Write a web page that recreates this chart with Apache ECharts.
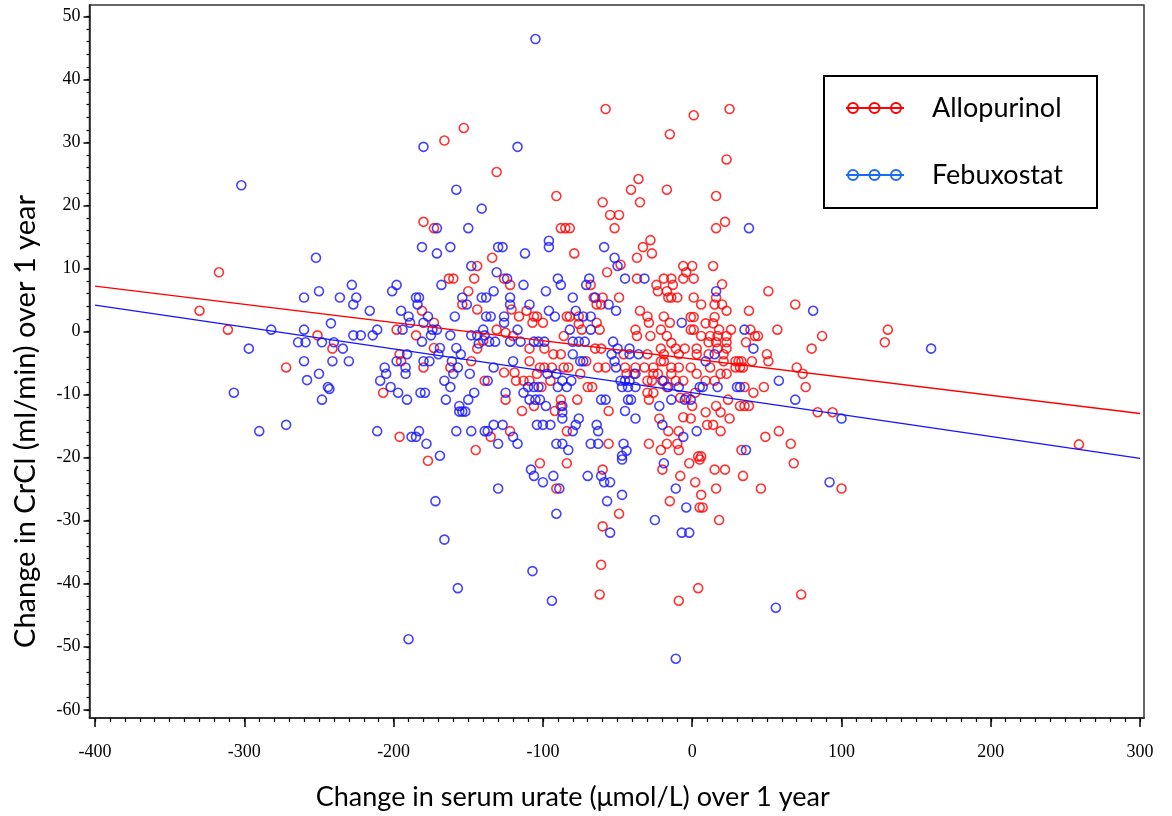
<!DOCTYPE html>
<html>
<head>
<meta charset="utf-8">
<script src="https://cdn.jsdelivr.net/npm/echarts@6/dist/echarts.min.js"></script>
<style>
  html, body { margin: 0; padding: 0; background: #fff; }
  #chart { width: 1172px; height: 816px; }
</style>
</head>
<body>
<div id="chart"></div>
<script>
// tick labels
var xTicks = [-400, -300, -200, -100, 0, 100, 200, 300];
var yTicks = [-60, -50, -40, -30, -20, -10, 0, 10, 20, 30, 40, 50];

// change in serum urate (x) vs change in CrCl (y)
var allopurinol = [
  [-317, 9.4], [-330, 3.3], [-311, 0.3], [-272, -5.7], [-251, -0.6], [-241, -2.7],
  [-58, 35.3], [-153, 32.3], [-166, 30.3], [-131, 25.3], [-91, 21.5], [-41, 22.5], [-60, 20.5],
  [-180, 17.4], [-173, 16.4], [-88, 16.4], [-85, 16.4], [-82, 16.4], [-55, 18.5], [-49, 18.5],
  [-52, 16.4], [-134, 11.7], [-79, 12.4],
  [1, 34.3], [25, 35.3], [-15, 31.3], [23, 27.3], [-36, 24.2], [-17, 22.5], [-35, 20.5], [16, 21.5],
  [22, 17.4], [16, 16.4], [-28, 14.5], [-33, 13.4], [-27, 12.4], [-37, 11.7],
  [-144, 10.4], [-163, 8.4], [-160, 8.4], [-146, 8.4], [-126, 8.4], [-122, 7.4], [-150, 6.4],
  [-144, 3.5], [-121, 3.5], [-181, 3.3], [-154, 4.3], [-116, 2.4], [-173, 1.4], [-198, 0.3],
  [-131, 0.3], [-125, -0.2], [-185, -0.6], [-140, -1.4], [-120, -0.7], [-173, -2.6], [-144, -2.7],
  [-196, -3.6], [-195, -4.7], [-148, -4.7], [-162, -5.7], [-180, -5.7], [-126, -6.5], [-119, -6.5],
  [-139, -7.8], [-118, -7.8], [-207, -9.7], [-125, -10.8], [-135, -16.7], [-122, -15.8],
  [-145, -18.8], [-177, -20.5], [-196, -16.7], [-114, -12.6],
  [-102, -20.9], [-84, -20.9], [-91, -24.9], [-60, -21.9], [-49, -28.9], [-60, -30.9], [-61, -37.0],
  [-62, -41.7],
  [-2, -20.9], [5, -20.3], [-20, -21.9], [15, -21.9], [22, -21.9], [-8, -22.9], [2, -23.9],
  [34, -22.9], [68, -20.9], [16, -24.9], [46, -24.9], [100, -24.9], [6, -25.9], [-15, -26.9],
  [5, -27.9], [7, -27.9], [18, -29.9], [4, -40.7], [-9, -42.7], [73, -41.7],
  [131, 0.3], [129, -1.7], [259, -17.9],
  [51, 6.4], [69, 4.3], [57, 0.3], [87, -0.7], [80, -2.7], [70, -5.7], [74, -6.7], [76, -8.8],
  [84, -12.8], [94, -12.8], [49, -16.7], [58, -15.8], [66, -17.8], [33, -18.8], [4, -19.8],
  [6, -19.8], [25, -13.8], [19, -12.8], [9, -12.8], [10, -14.8], [14, -14.8], [19, -15.8],
  [-1, -13.8], [0, -11.8], [32, -11.8], [35, -11.8], [38, -11.8], [24, -10.8], [16, -11.8],
  [41, -9.7], [48, -8.8], [35, -8.8], [2, -9.7], [15, -7.8], [9, -7.8], [23, -6.7], [19, -6.7],
  [3, -6.7], [29, -5.7], [32, -5.7], [34, -5.7], [-1, -5.7], [12, -5.7], [29, -4.7], [31, -4.7],
  [33, -4.7], [40, -4.7], [50, -3.6], [51, -4.7], [21, -4.7], [11, -3.6], [21, -3.6], [3, -3.6],
  [23, -2.7], [17, -2.7], [3, -2.7], [36, -1.7], [11, -1.7], [16, -1.7], [23, -1.7], [42, -0.7],
  [44, -0.7], [26, 0.3], [39, 0.3], [6, -0.7], [12, -0.7], [17, -0.7], [23, -0.7], [-1, 0.3],
  [1, 0.3], [9, 1.3], [14, 1.3], [18, 0.3], [-1, 2.3], [1, 2.3], [15, 2.3], [23, 3.3], [38, 3.3],
  [6, 4.3], [15, 4.3], [20, 4.3], [16, 5.4], [20, 7.5], [1, 5.4], [1, 8.4], [14, 10.4], [0, 10.4],
  [-48, 10.6], [-57, 9.4], [-6, 10.4], [-4, 9.4], [-68, 7.4], [-37, 8.4], [-24, 7.4], [-23, 6.4],
  [-19, 8.4], [-14, 8.4], [-13, 7.4], [-6, 8.4], [-17, 6.4], [-14, 5.4], [-16, 5.4], [-10, 5.4],
  [-66, 5.4], [-64, 4.3], [-60, 5.4], [-49, 5.4], [-61, 4.3], [-111, 3.3], [-106, 2.4],
  [-104, 2.4], [-100, 1.4], [-84, 2.4], [-82, 2.4], [-76, 2.4], [-35, 3.3], [-30, 2.4],
  [-29, 1.4], [-19, 2.4], [-15, 1.4], [-107, 1.4], [-76, 1.2], [-64, 1.4], [-62, 0.3], [-74, 0.3],
  [-86, -0.7], [-38, 0.3], [-37, -0.7], [-28, -0.7], [-21, 0.3], [-17, -0.7], [-14, -1.8],
  [-109, -2.7], [-99, -2.7], [-65, -2.7], [-61, -2.7], [-46, -3.6], [-30, -3.6], [-21, -2.7],
  [-19, -3.6], [-21, -4.7], [-19, -4.7], [-11, -2.7], [-9, -3.6], [-5, -2.7], [-93, -3.6],
  [-88, -3.6], [-109, -4.7], [-102, -5.7], [-99, -5.7], [-94, -5.7], [-86, -5.7], [-83, -5.7],
  [-71, -4.7], [-63, -5.7], [-58, -5.7], [-45, -5.7], [-38, -5.7], [-32, -5.7], [-26, -5.7],
  [-14, -5.7], [-9, -5.7], [-104, -6.7], [-75, -6.7], [-44, -6.7], [-39, -6.7], [-26, -6.7],
  [-23, -6.7], [-14, -6.7], [-95, -7.8], [-113, -7.8], [-109, -7.8], [-101, -8.8], [-70, -8.8],
  [-67, -8.8], [-30, -7.8], [-27, -7.8], [-19, -7.8], [-17, -8.8], [-11, -7.8], [-6, -7.8],
  [-30, -9.7], [-26, -9.7], [-88, -10.8], [-88, -11.8], [-77, -10.8], [-29, -10.8], [-106, -11.8],
  [-8, -10.5], [-4, -10.5], [-92, -12.6], [-84, -15.8], [-56, -12.6], [-22, -13.8], [-16, -15.8],
  [-6, -13.6], [-9, -15.8], [-17, -17.8], [-10, -17.8], [-29, -17.8], [-21, -18.8], [-56, -17.8],
  [-9, -18.8]
];

var febuxostat = [
  [-302, 23.2], [-252, 11.7],
  [-282, 0.3], [-297, -2.7], [-307, -9.7], [-290, -15.8], [-272, -14.8], [-260, 5.4], [-250, 6.4],
  [-236, 5.4], [-228, 7.4], [-242, 1.3], [-260, 0.3], [-264, -1.7], [-259, -1.7], [-248, -1.7],
  [-240, -1.7], [-234, -2.7], [-260, -4.7], [-241, -4.7], [-230, -4.7], [-250, -6.7], [-258, -7.7],
  [-244, -8.8], [-243, -9.1], [-248, -10.8],
  [-105, 46.4], [-180, 29.3], [-117, 29.3], [-158, 22.5], [-141, 19.5], [-171, 16.4], [-150, 16.4],
  [-181, 13.4], [-171, 12.4], [-162, 13.4], [-130, 13.4], [-127, 13.4], [-112, 12.4], [-96, 14.4],
  [-96, 13.4], [-59, 13.4], [-52, 11.7], [38, 16.4],
  [-148, 10.4], [-131, 9.4], [-124, 8.4], [-198, 7.4], [-201, 6.4], [-168, 7.4], [-113, 7.4],
  [-133, 6.4], [-225, 5.4], [-227, 4.3], [-185, 5.4], [-183, 5.4], [-184, 4.3], [-154, 5.4],
  [-141, 5.4], [-138, 5.4], [-122, 5.4], [-151, 4.3], [-122, 4.3], [-216, 3.3], [-195, 3.3],
  [-190, 2.4], [-177, 2.4], [-159, 2.4], [-138, 2.4], [-135, 2.4], [-126, 2.4], [-189, 1.4],
  [-180, 1.4], [-126, 1.4], [-194, 0.3], [-211, 0.3], [-174, 0.3], [-171, 0.3], [-140, 0.3],
  [-117, 0.3], [-227, -0.6], [-222, -0.6], [-214, -0.6], [-175, -0.6], [-162, -0.6], [-148, -0.6],
  [-144, -0.6], [-139, -0.6], [-136, -1.6], [-132, -1.6], [-122, -1.6], [-115, -1.6], [-181, -1.6],
  [-169, -2.6], [-158, -2.6], [-143, -1.9], [-191, -3.6], [-170, -3.6], [-155, -3.6], [-198, -4.7],
  [-180, -4.7], [-176, -4.7], [-161, -4.7], [-120, -4.7], [-157, -5.7], [-206, -5.7], [-192, -5.7],
  [-133, -5.7], [-205, -6.7], [-192, -6.7], [-149, -6.7], [-160, -6.7], [-209, -7.8], [-166, -7.8],
  [-137, -7.8], [-202, -8.8], [-162, -8.8], [-197, -9.7], [-182, -9.7], [-179, -9.7], [-146, -9.7],
  [-125, -9.7], [-113, -9.7], [-191, -10.8], [-165, -10.8], [-150, -10.8], [-156, -11.8],
  [-156, -12.7], [-154, -12.7], [-152, -12.7], [-211, -15.8], [-188, -16.7], [-185, -16.7],
  [-183, -15.8], [-178, -17.8], [-158, -15.8], [-148, -15.8], [-139, -15.8], [-137, -15.8],
  [-133, -14.8], [-127, -14.8], [-120, -16.7], [-130, -17.8], [-117, -17.8], [-169, -19.7],
  [-108, -21.9], [-106, -22.9], [-100, -23.9], [-93, -22.9], [-89, -24.9], [-70, -22.9], [-61, -22.9],
  [-59, -23.9], [-55, -23.9], [-47, -25.9], [-57, -26.9], [-55, -31.9], [-130, -24.9], [-172, -26.9],
  [-91, -28.9], [-166, -33.0], [-107, -38.0], [-157, -40.7], [-94, -42.7], [-190, -48.8],
  [-19, -20.9], [-11, -24.9], [92, -23.9], [-4, -27.9], [-25, -29.9], [-7, -31.9], [-2, -31.9],
  [56, -43.8], [-11, -51.9], [-47, -20.3], [160, -2.7],
  [81, 3.3], [58, -7.8], [69, -10.8], [100, -13.8], [36, -18.8], [3, -15.8], [-1, -10.8], [30, -8.8],
  [32, -8.8], [17, -8.8], [5, -8.8], [7, -8.8], [41, -2.7], [35, 0.3], [9, -4.7], [15, -3.6], [16, 6.4],
  [-50, 10.4], [-90, 8.4], [-88, 7.4], [-69, 8.4], [-71, 7.4], [-45, 8.4], [-32, 8.4], [-98, 6.4],
  [-80, 5.4], [-65, 5.4], [-56, 4.3], [-109, 4.3], [-96, 3.3], [-92, 2.4], [-78, 3.3], [-73, 2.4],
  [-68, 2.4], [-51, 3.3], [-7, 1.4], [-82, 0.3], [-68, 0.3], [-106, -1.6], [-103, -1.6], [-99, -1.6],
  [-80, -1.6], [-76, -1.6], [-72, -1.6], [-53, -1.6], [-50, -2.7], [-54, -3.6], [-52, -4.7],
  [-51, -5.7], [-42, -2.7], [-36, -3.6], [-42, -3.6], [-75, -4.7], [-73, -4.7], [-80, -3.6],
  [-97, -6.7], [-91, -6.7], [-38, -6.7], [-87, -7.8], [-81, -7.8], [-110, -8.8], [-106, -8.8],
  [-103, -8.8], [-90, -8.8], [-84, -8.8], [-48, -7.8], [-45, -7.8], [-42, -7.8], [-47, -8.8],
  [-43, -8.8], [-38, -8.8], [-20, -7.8], [-16, -8.8], [-9, -8.8], [-109, -10.8], [-105, -10.8],
  [-102, -10.8], [-98, -11.8], [-87, -11.8], [-61, -10.8], [-58, -10.8], [-43, -10.8], [-41, -10.8],
  [-14, -10.8], [-22, -11.8], [-5, -10.8], [-87, -12.8], [-87, -13.8], [-76, -13.8], [-78, -14.8],
  [-80, -15.8], [-104, -14.8], [-100, -14.8], [-95, -14.8], [-64, -14.8], [-63, -15.8], [-45, -12.6],
  [-38, -13.8], [-20, -14.8], [-6, -16.7], [-46, -17.8], [-47, -19.7], [-44, -18.9], [-91, -17.8],
  [-87, -17.8], [-83, -18.8], [-68, -17.8], [-63, -17.8]
];

// fitted regression lines, end points
var fitX = [-400, 300];
var allopurinolFit = [7.2, -13.0];
var febuxostatFit = [4.2, -20.1];

var X_MIN = -403.7, X_MAX = 302.6;
var Y_MIN = -61.3, Y_MAX = 51.8;

// minor ticks: x every 10, y every 2
var xMinor = [];
for (var v = -400; v <= 300; v += 10) xMinor.push(v);
var yMinor = [];
for (var w = -60; w <= 50; w += 2) yMinor.push(w);

var RED = '#ff0000';
var BLUE = '#1414ff';
var LEGEND_BLUE = '#1a6cf0';
var labelFont = { fontFamily: 'Liberation Serif', fontSize: 18, color: '#000' };

var chart = echarts.init(document.getElementById('chart'));

function hollow(color) {
  return { color: 'rgba(0,0,0,0)', borderColor: color, borderWidth: 1.6 };
}

chart.setOption({
  animation: false,
  grid: {
    left: 89.5, top: 5, right: 28, bottom: 97,
    show: true, borderColor: '#333', borderWidth: 1.5
  },
  xAxis: [
    {
      type: 'value', min: X_MIN, max: X_MAX, position: 'bottom',
      axisLine: { show: true, onZero: false, lineStyle: { color: '#222', width: 1.5 } },
      axisTick: { show: true, customValues: xTicks, length: 9, lineStyle: { color: '#000', width: 1.5 } },
      axisLabel: Object.assign({ customValues: xTicks, margin: 25 }, labelFont),
      splitLine: { show: false },
      name: 'Change in serum urate (\u03bcmol/L) over 1 year',
      nameLocation: 'middle', nameGap: 66,
      nameTextStyle: { fontFamily: 'Lato', fontSize: 27, color: '#000', padding: [0, 88, 0, 0] }
    },
    {
      type: 'value', min: X_MIN, max: X_MAX, position: 'bottom',
      axisLine: { show: false, onZero: false },
      axisTick: { show: true, customValues: xMinor, length: 4, lineStyle: { color: '#000', width: 1.2 } },
      axisLabel: { show: false },
      splitLine: { show: false }
    }
  ],
  yAxis: [
    {
      type: 'value', min: Y_MIN, max: Y_MAX, position: 'left',
      axisLine: { show: true, onZero: false, lineStyle: { color: '#222', width: 1.5 } },
      axisTick: { show: true, customValues: yTicks, length: 6, lineStyle: { color: '#000', width: 1.5 } },
      axisLabel: Object.assign({ customValues: yTicks, margin: 9 }, labelFont),
      splitLine: { show: false },
      name: 'Change in CrCl (ml/min) over 1 year',
      nameLocation: 'middle', nameGap: 49,
      nameTextStyle: { fontFamily: 'Lato', fontSize: 29, color: '#000', padding: [0, 120, 0, 0] }
    },
    {
      type: 'value', min: Y_MIN, max: Y_MAX, position: 'left',
      axisLine: { show: false, onZero: false },
      axisTick: { show: true, customValues: yMinor, length: 3, lineStyle: { color: '#000', width: 1.2 } },
      axisLabel: { show: false },
      splitLine: { show: false }
    }
  ],
  series: [
    {
      name: 'Allopurinol', type: 'scatter', data: allopurinol,
      symbol: 'circle', symbolSize: 9, itemStyle: hollow(RED)
    },
    {
      name: 'Febuxostat', type: 'scatter', data: febuxostat,
      symbol: 'circle', symbolSize: 9, itemStyle: hollow(BLUE)
    },
    {
      name: 'Allopurinol fit', type: 'line', showSymbol: false, symbol: 'none',
      data: [[fitX[0], allopurinolFit[0]], [fitX[1], allopurinolFit[1]]],
      lineStyle: { color: RED, width: 1.3 }, z: 3
    },
    {
      name: 'Febuxostat fit', type: 'line', showSymbol: false, symbol: 'none',
      data: [[fitX[0], febuxostatFit[0]], [fitX[1], febuxostatFit[1]]],
      lineStyle: { color: BLUE, width: 1.3 }, z: 3
    }
  ],
  // legend box drawn by hand: line through three hollow circles
  graphic: [
    { type: 'rect', shape: { x: 824, y: 76, width: 273, height: 132 },
      style: { fill: '#fff', stroke: '#000', lineWidth: 2 }, z: 10 },
    { type: 'line', shape: { x1: 846, y1: 108, x2: 904, y2: 108 },
      style: { stroke: RED, lineWidth: 2 }, z: 11 },
    { type: 'circle', shape: { cx: 853, cy: 108, r: 5 }, style: { fill: 'none', stroke: RED, lineWidth: 2 }, z: 11 },
    { type: 'circle', shape: { cx: 874.5, cy: 108, r: 5 }, style: { fill: 'none', stroke: RED, lineWidth: 2 }, z: 11 },
    { type: 'circle', shape: { cx: 896, cy: 108, r: 5 }, style: { fill: 'none', stroke: RED, lineWidth: 2 }, z: 11 },
    { type: 'text', x: 932, y: 108, style: { text: 'Allopurinol', font: '27px Lato', fill: '#000', verticalAlign: 'middle' }, z: 11 },
    { type: 'line', shape: { x1: 846, y1: 175, x2: 904, y2: 175 },
      style: { stroke: LEGEND_BLUE, lineWidth: 2 }, z: 11 },
    { type: 'circle', shape: { cx: 853, cy: 175, r: 5 }, style: { fill: 'none', stroke: LEGEND_BLUE, lineWidth: 2 }, z: 11 },
    { type: 'circle', shape: { cx: 874.5, cy: 175, r: 5 }, style: { fill: 'none', stroke: LEGEND_BLUE, lineWidth: 2 }, z: 11 },
    { type: 'circle', shape: { cx: 896, cy: 175, r: 5 }, style: { fill: 'none', stroke: LEGEND_BLUE, lineWidth: 2 }, z: 11 },
    { type: 'text', x: 932, y: 175, style: { text: 'Febuxostat', font: '27px Lato', fill: '#000', verticalAlign: 'middle' }, z: 11 }
  ]
});

window.addEventListener('resize', function () {
  chart.resize();
});
</script>
</body>
</html>
